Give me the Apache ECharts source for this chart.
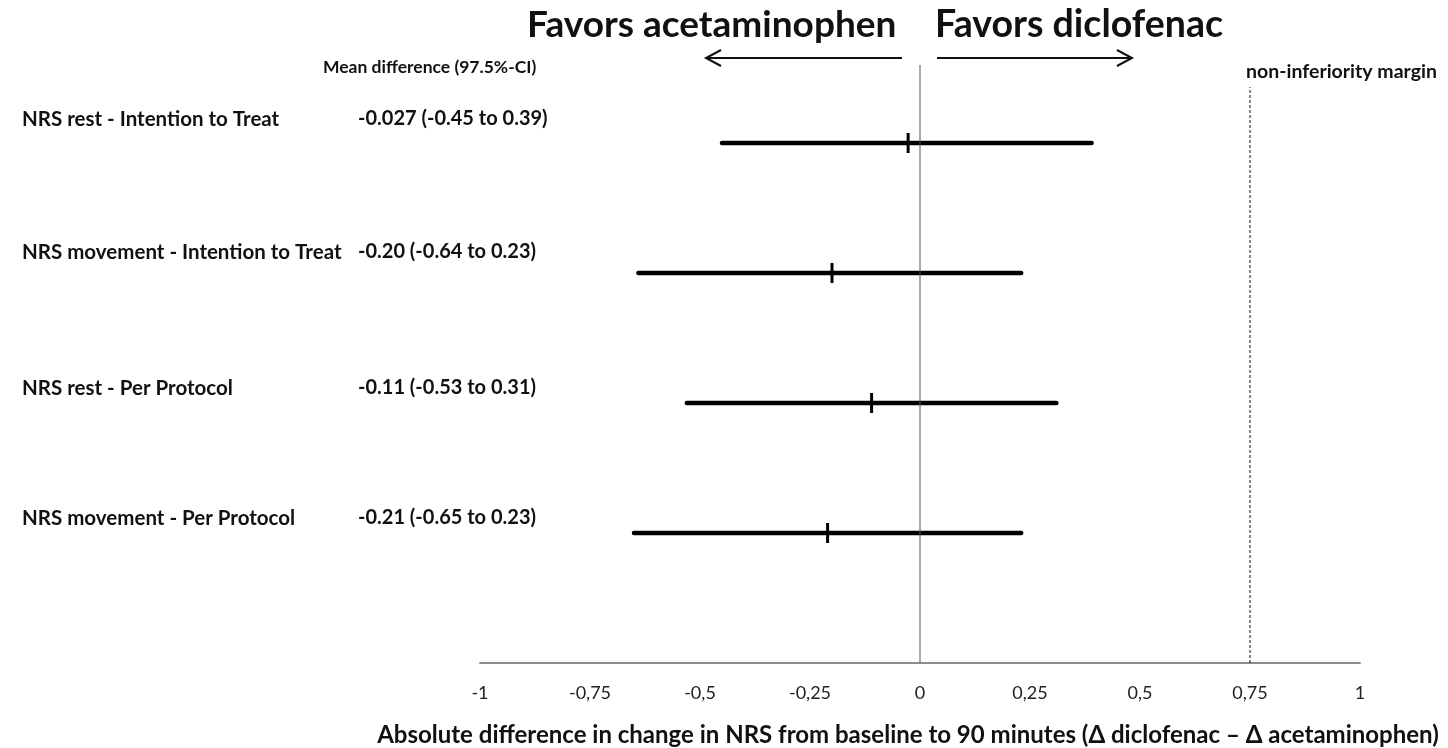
<!DOCTYPE html>
<html><head><meta charset="utf-8">
<script src="https://cdn.jsdelivr.net/npm/echarts@6/dist/echarts.min.js"></script>
<style>html,body{margin:0;padding:0;background:#fff}#c{width:1448px;height:748px}</style>
</head><body><div id="c"></div>
<script>
const rowLabels = ['NRS rest - Intention to Treat','NRS movement - Intention to Treat','NRS rest - Per Protocol','NRS movement - Per Protocol'];
const ciTexts = ['-0.027 (-0.45 to 0.39)','-0.20 (-0.64 to 0.23)','-0.11 (-0.53 to 0.31)','-0.21 (-0.65 to 0.23)'];
const meanDiff = [-0.027, -0.20, -0.11, -0.21];
const ciLow = [-0.45, -0.64, -0.53, -0.65];
const ciHigh = [0.39, 0.23, 0.31, 0.23];
const rowPos = [4, 3, 2, 1];
const niMargin = 0.75;
const axisTitle = 'Absolute difference in change in NRS from baseline to 90 minutes (\u0394 diclofenac \u2013 \u0394 acetaminophen)';
const FONT = 'Lato';

const chart = echarts.init(document.getElementById('c'));
const rows = rowPos.map((y,i)=>[ciLow[i], ciHigh[i], meanDiff[i], y]);

chart.setOption({
  animation:false,
  grid:{left:480, right:88, top:13, bottom:85},
  xAxis:{type:'value', min:-1, max:1, interval:0.25,
    axisLine:{show:true, onZero:false, lineStyle:{color:'#8c8c8c', width:2}},
    axisTick:{show:false}, splitLine:{show:false},
    axisLabel:{margin:21, color:'#222', fontFamily:FONT, fontSize:18,
      formatter:v=>String(+v.toFixed(2)).replace('.',',')}},
  yAxis:{type:'value', min:0, max:5, show:false},
  series:[
    {type:'line', data:[[0,0],[0,4.6]], symbol:'none', lineStyle:{color:'#555', width:1}, silent:true},
    {type:'line', data:[[niMargin,0],[niMargin,4.43]], symbol:'none', lineStyle:{color:'#111', width:1, type:[3,2]}, silent:true},
    {type:'custom', data:rows, encode:{x:[0,1,2], y:3},
      renderItem:function(params, api){
        const a = api.coord([api.value(0), api.value(3)]);
        const b = api.coord([api.value(1), api.value(3)]);
        const m = api.coord([api.value(2), api.value(3)]);
        return {type:'group', children:[
          {type:'line', shape:{x1:a[0], y1:a[1], x2:b[0], y2:b[1]}, style:{stroke:'#000', lineWidth:4.5, lineCap:'round'}},
          {type:'line', shape:{x1:m[0], y1:m[1]-10, x2:m[0], y2:m[1]+10}, style:{stroke:'#000', lineWidth:3}}
        ]};
      }}
  ]
});

const g = [];
const txt = (x, y, s, size, align) => ({type:'text', x:x, y:y,
  style:{text:s, font:'bold '+size+'px '+FONT, fill:'#111', textAlign:align||'left', textVerticalAlign:'middle'}});
const labelOffsets = [24, 21, 15, 15];
rowPos.forEach((y,i)=>{
  const py = chart.convertToPixel({gridIndex:0}, [0, y])[1] - labelOffsets[i];
  g.push(txt(22, py, rowLabels[i], 20.5));
  g.push(txt(358, py, ciTexts[i], 20));
});
g.push(txt(323, 67, 'Mean difference (97.5%-CI)', 17.5));
g.push(txt(527, 25, 'Favors acetaminophen', 37));
g.push(txt(935, 25, 'Favors diclofenac', 37.5));
g.push(txt(1246, 72, 'non-inferiority margin', 19.5));
g.push(txt(908, 735, axisTitle, 24, 'center'));
// arrows
g.push({type:'line', shape:{x1:902,y1:58,x2:707,y2:58}, style:{stroke:'#111', lineWidth:2}});
g.push({type:'polyline', shape:{points:[[721,50],[706,58],[721,66]]}, style:{stroke:'#111', lineWidth:2, fill:null}});
g.push({type:'line', shape:{x1:937,y1:58,x2:1131,y2:58}, style:{stroke:'#111', lineWidth:2}});
g.push({type:'polyline', shape:{points:[[1117,50],[1132,58],[1117,66]]}, style:{stroke:'#111', lineWidth:2, fill:null}});
chart.setOption({graphic:g});
</script>
</body></html>
